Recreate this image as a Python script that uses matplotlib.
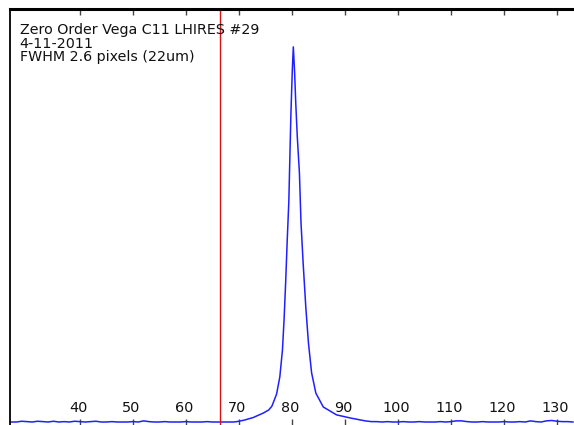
import matplotlib.pyplot as plt
import numpy as np

# profile of the zero order spot, detector pixel vs relative intensity
pix = np.array([27, 28, 29, 30, 31, 32, 33, 34, 35, 36, 37, 38, 39, 40, 41, 42,
                43, 44, 45, 46, 47, 48, 49, 50, 51, 52, 53, 54, 55, 56, 57, 58,
                59, 60, 61, 62, 63, 64, 65, 66, 67, 68, 69, 69.6,
                71.0, 72.7, 74.6, 75.6, 76.2, 76.7, 77.1, 77.7, 78.2, 78.5,
                78.8, 79.1, 79.4, 79.6, 79.8, 80.06, 80.25,
                80.5, 80.7, 81.0, 81.4, 81.7, 82.1, 82.6, 83.1, 83.7, 84.5,
                85.9, 88.4, 90.9, 93.8,
                95, 96, 97, 98, 99, 100, 101, 102, 103, 104, 105, 106, 107,
                108, 109, 110, 111, 112, 113, 114, 115, 116, 117, 118, 119,
                120, 121, 122, 123, 124, 125, 126, 127, 128, 129, 130, 131,
                132, 133])
inten = np.array([0.000, 0.000, 0.002, 0.001, 0.000, 0.002, 0.001, 0.000, 0.002,
                  0.000, 0.001, 0.000, 0.002, 0.001, 0.000, 0.001, 0.002, 0.000,
                  0.000, 0.001, 0.000, 0.000, 0.000, 0.001, 0.000, 0.003, 0.001,
                  0.000, 0.000, 0.001, 0.000, 0.000, 0.000, 0.001, 0.000, 0.000,
                  0.000, 0.001, 0.000, 0.000, 0.000, 0.000, 0.000, 0.001,
                  0.005, 0.012, 0.024, 0.032, 0.042, 0.060, 0.075, 0.120, 0.192,
                  0.272, 0.371, 0.485, 0.587, 0.707, 0.824, 0.939, 1.000,
                  0.930, 0.853, 0.760, 0.664, 0.531, 0.424, 0.307, 0.211, 0.131,
                  0.077, 0.040, 0.019, 0.011, 0.003,
                  0.001, 0.001, 0.000, 0.001, 0.000, 0.000, 0.001, 0.000, 0.000,
                  0.001, 0.000, 0.000, 0.000, 0.001, 0.000, 0.001, 0.003, 0.003,
                  0.001, 0.000, 0.000, 0.001, 0.000, 0.000, 0.000, 0.001, 0.000,
                  0.000, 0.001, 0.000, 0.003, 0.001, 0.000, 0.003, 0.004, 0.002,
                  0.001, 0.001, 0.000])
marker_x = 66.5
xticks = [40, 50, 60, 70, 80, 90, 100, 110, 120, 130]
title_lines = ["Zero Order Vega C11 LHIRES #29", "4-11-2011", "FWHM 2.6 pixels (22um)"]

fig = plt.figure(figsize=(5.74, 4.25), dpi=100)
ax = fig.add_axes([10 / 574, 0, 564 / 574, 416 / 425])

ax.plot(pix, inten, color='#2020ff', lw=1.1)
ax.axvline(marker_x, color='#dd1111', lw=1.0)

ax.set_xlim(26.8, 133.2)
ax.set_ylim(-0.008, 1.101)

for s in ['right', 'bottom']:
    ax.spines[s].set_visible(False)
ax.spines['top'].set_linewidth(2.2)
ax.spines['left'].set_linewidth(1.3)

ax.set_xticks(xticks)
ax.set_xticklabels([])
ax.set_yticks([])
ax.tick_params(axis='x', which='both', direction='in', top=True, bottom=True,
               length=4.0, width=1.0, color='#444444')

for t in xticks:
    ax.text(t - 0.3, 0.042, str(t), transform=ax.get_xaxis_transform(),
            ha='center', va='center', fontsize=10.4, color='#111111')

# one text per line, baselines ~13.5 px apart like the reference
for i, line in enumerate(title_lines):
    ax.text(0.017, 1 - (25 + 13.5 * i) / 416, line, transform=ax.transAxes,
            ha='left', va='baseline', fontsize=10.3, color='#111111')

fig.savefig('out.png', dpi=100)
